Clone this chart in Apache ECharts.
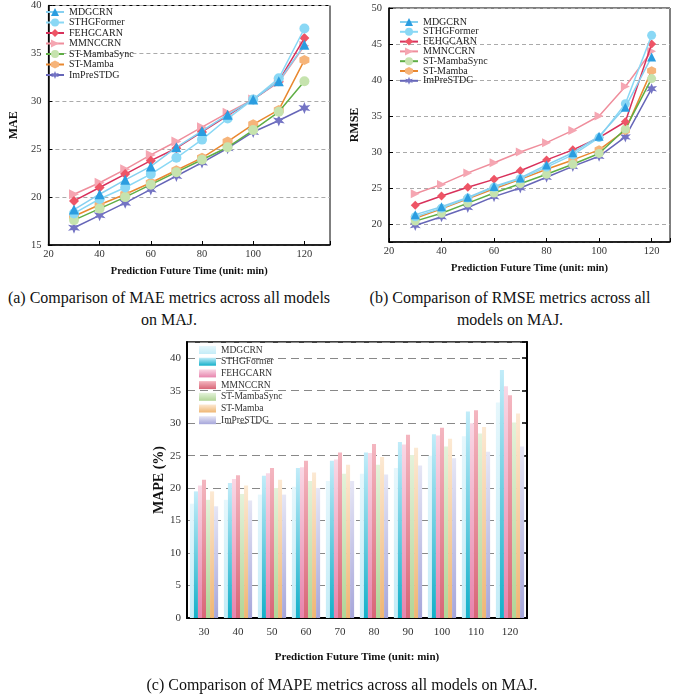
<!DOCTYPE html>
<html>
<head>
<meta charset="utf-8">
<script src="https://cdn.jsdelivr.net/npm/echarts@6/dist/echarts.min.js"></script>
<style>
body{margin:0;background:#fff;width:680px;height:694px;position:relative;overflow:hidden;font-family:"Liberation Serif",serif;}
.chart{position:absolute;}
.cap{position:absolute;text-align:center;font-size:16px;color:#111;line-height:22px;white-space:nowrap;font-family:"Liberation Serif",serif;}
</style>
</head>
<body>
<div id="ca" class="chart" style="left:0;top:0;width:340px;height:285px"></div>
<div id="cb" class="chart" style="left:340px;top:0;width:340px;height:285px"></div>
<div id="cc" class="chart" style="left:0;top:335px;width:680px;height:340px"></div>
<div class="cap" style="left:0;top:287px;width:338px">(a) Comparison of MAE metrics across all models<br>on MAJ.</div>
<div class="cap" style="left:340px;top:287px;width:340px">(b) Comparison of RMSE metrics across all<br>models on MAJ.</div>
<div class="cap" style="left:0;top:674px;width:684px">(c) Comparison of MAPE metrics across all models on MAJ.</div>
<script>
// prediction horizons (min)
const xTimes = [30, 40, 50, 60, 70, 80, 90, 100, 110, 120];
const modelNames = ['MDGCRN', 'STHGFormer', 'FEHGCARN', 'MMNCCRN', 'ST-MambaSync', 'ST-Mamba', 'ImPreSTDG'];

// one row per model, same order as modelNames
const maeValues = [
    [18.7, 20.3, 21.8, 23.2, 25.2, 26.9, 28.6, 30.2, 32.1, 35.9],
    [18.3, 19.8, 21.0, 22.4, 24.1, 26.0, 28.2, 30.2, 32.4, 37.6],
    [19.6, 21.0, 22.4, 23.8, 25.1, 26.8, 28.5, 30.2, 32.1, 36.6],
    [20.3, 21.5, 22.9, 24.4, 25.8, 27.3, 28.8, 30.2, 32.0, 35.8],
    [17.6, 18.8, 20.0, 21.3, 22.6, 23.9, 25.2, 27.0, 28.9, 32.1],
    [18.0, 19.2, 20.3, 21.5, 22.8, 24.1, 25.8, 27.6, 29.1, 34.3],
    [16.8, 18.1, 19.4, 20.8, 22.2, 23.6, 25.1, 26.8, 28.0, 29.3]
];
const rmseValues = [
    [21.3, 22.4, 23.7, 25.2, 26.4, 28.2, 29.9, 32.2, 36.2, 43.2],
    [21.0, 22.2, 23.6, 25.1, 26.3, 27.9, 29.6, 32.0, 36.7, 46.2],
    [22.6, 23.9, 25.1, 26.2, 27.4, 28.9, 30.3, 32.0, 34.2, 45.0],
    [24.2, 25.5, 27.1, 28.5, 30.0, 31.3, 33.0, 35.0, 39.1, 44.0],
    [20.4, 21.5, 22.9, 24.3, 25.6, 26.9, 28.3, 29.8, 33.2, 40.2],
    [20.8, 22.1, 23.5, 24.9, 26.2, 27.6, 28.9, 30.3, 33.0, 41.3],
    [19.8, 21.0, 22.3, 23.8, 25.0, 26.5, 28.0, 29.4, 32.1, 38.8]
];
const mapeValues = [
    [17.6, 18.2, 19.0, 20.2, 21.1, 22.2, 23.1, 25.0, 28.0, 33.2],
    [19.5, 20.8, 21.9, 23.1, 24.2, 25.5, 27.1, 28.3, 31.8, 38.2],
    [20.4, 21.4, 22.3, 23.2, 24.4, 25.4, 26.7, 28.1, 30.0, 35.7],
    [21.3, 22.0, 23.1, 24.2, 25.5, 26.8, 28.2, 29.3, 32.0, 34.3],
    [18.2, 19.1, 20.0, 21.1, 22.2, 23.6, 25.1, 26.4, 28.4, 30.1],
    [19.5, 20.4, 21.3, 22.4, 23.6, 24.8, 26.2, 27.6, 29.4, 31.5],
    [17.2, 18.1, 19.0, 20.0, 21.1, 22.1, 23.5, 24.6, 25.6, 26.4]
];

const lineColors = ['#86d0f0', '#8ad8f5', '#d8315b', '#ef8e9c', '#5fae45', '#e9882f', '#6666b8'];
const markerColors = ['#2b9de0', '#8ad8f5', '#ee5566', '#f5a6b2', '#c6e3ae', '#f6b47a', '#7474c4'];
const markerSymbols = [
    'triangle',
    'circle',
    'diamond',
    'path://M0,0L10,5L0,10Z',
    'circle',
    'path://M5,0L9.33,2.5L9.33,7.5L5,10L0.67,7.5L0.67,2.5Z',
    'path://M5,0L6.1,3.1L9.33,2.5L7.2,5L9.33,7.5L6.1,6.9L5,10L3.9,6.9L0.67,7.5L2.8,5L0.67,2.5L3.9,3.1Z'
];
const barTop = ['#e6f7fc', '#c2ecf9', '#f9d8e5', '#f4b6c0', '#e4f2da', '#fce9d3', '#e6e6f5'];
const barBottom = ['#c4ecf7', '#14b0c9', '#e784ad', '#d86677', '#b1d597', '#efb673', '#a6a6da'];

const serif = 'Liberation Serif';

function lineChart(el, values, o) {
    const chart = echarts.init(document.getElementById(el));
    const series = modelNames.map((name, i) => ({
        name: name,
        type: 'line',
        data: xTimes.map((x, j) => [x, values[i][j]]),
        symbol: markerSymbols[i],
        symbolSize: i === 6 ? o.symSize + 2 : o.symSize,
        lineStyle: {color: lineColors[i], width: 1.5},
        itemStyle: {color: markerColors[i], borderWidth: 0},
        z: 10 - i
    }));
    chart.setOption({
        animation: false,
        grid: {left: o.left, top: o.top, width: o.width, height: o.height, show: true, borderColor: '#000', borderWidth: 1},
        legend: {
            orient: 'vertical', left: o.legLeft, top: o.legTop,
            itemWidth: 18, itemHeight: 10, itemGap: o.legGap,
            textStyle: {fontFamily: serif, fontSize: 10, color: '#222'},
            data: modelNames
        },
        xAxis: {
            type: 'value', min: 20, max: o.xMax, interval: 20,
            name: 'Prediction Future Time (unit: min)', nameLocation: 'middle', nameGap: 21,
            nameTextStyle: {fontFamily: serif, fontWeight: 'bold', fontSize: 10.5, color: '#111'},
            axisLine: {lineStyle: {color: '#000', width: 1.5}},
            axisTick: {inside: true, length: 4, lineStyle: {color: '#000'}},
            axisLabel: {fontFamily: serif, fontSize: 10.5, color: '#333', margin: 4,
                formatter: v => (v % 20 === 0 && v <= 120) ? v : ''},
            splitLine: {show: false}
        },
        yAxis: {
            type: 'value', min: o.yMin, max: o.yMax, splitNumber: o.split,
            name: o.yName, nameLocation: 'middle', nameGap: 15,
            nameTextStyle: {fontFamily: serif, fontWeight: 'bold', fontSize: 12, color: '#111'},
            axisLine: {lineStyle: {color: '#000', width: 1.5}},
            axisTick: {inside: true, length: 4, lineStyle: {color: '#000'}},
            axisLabel: {fontFamily: serif, fontSize: 10.5, color: '#333', margin: 7,
                formatter: v => (v % 5 === 0) ? v : ''},
            splitLine: {lineStyle: {color: '#aaa', type: [4, 3], width: 1}}
        },
        series: series
    });
}

lineChart('ca', maeValues, {
    left: 30, top: 3, width: 300, height: 242,
    xMax: 130, yMin: 15, yMax: 40, split: 5, yName: 'MAE',
    legLeft: 40, legTop: 2, legGap: 0.5, symSize: 10
});
lineChart('cb', rmseValues, {
    left: 49, top: 8, width: 281, height: 234,
    xMax: 127, yMin: 17.5, yMax: 50, split: 7, yName: 'RMSE',
    legLeft: 54, legTop: 12, legGap: -0.2, symSize: 9
});

// bar chart (c)
const cc = echarts.init(document.getElementById('cc'));
const barSeries = modelNames.map((name, i) => ({
    name: name,
    type: 'bar',
    data: mapeValues[i],
    barGap: '0%',
    barCategoryGap: '17%',
    itemStyle: {
        color: new echarts.graphic.LinearGradient(0, 0, 0, 1, [
            {offset: 0, color: barTop[i]},
            {offset: 1, color: barBottom[i]}
        ])
    }
}));
cc.setOption({
    animation: false,
    grid: {left: 187, top: 7, width: 340, height: 276, show: true, borderColor: '#000', borderWidth: 1.5},
    legend: {
        orient: 'vertical', left: 194, top: 5,
        itemWidth: 17, itemHeight: 8, itemGap: 1.7, icon: 'rect',
        textStyle: {fontFamily: serif, fontSize: 9.5, color: '#333'},
        data: modelNames
    },
    xAxis: {
        type: 'category', data: xTimes,
        name: 'Prediction Future Time (unit: min)', nameLocation: 'middle', nameGap: 34,
        nameTextStyle: {fontFamily: serif, fontWeight: 'bold', fontSize: 11, color: '#111'},
        axisLine: {lineStyle: {color: '#000', width: 2}},
        axisTick: {show: false},
        axisLabel: {fontFamily: serif, fontSize: 11, color: '#333', margin: 9}
    },
    yAxis: [{
        type: 'value', min: 0, max: 42.5, interval: 5,
        name: 'MAPE (%)', nameLocation: 'middle', nameGap: 17,
        nameTextStyle: {fontFamily: serif, fontWeight: 'bold', fontSize: 14, color: '#111'},
        axisLine: {show: true, lineStyle: {color: '#000', width: 2}},
        axisTick: {inside: true, length: 4, lineStyle: {color: '#000'}},
        axisLabel: {fontFamily: serif, fontSize: 11, color: '#333', margin: 6,
            formatter: v => (v % 5 === 0) ? v : ''},
        splitLine: {lineStyle: {color: '#888', type: [8, 5], width: 1.2}}
    }, {
        type: 'value', min: 0, max: 42.5, interval: 5, position: 'right',
        axisLine: {show: true, lineStyle: {color: '#000', width: 2}},
        axisTick: {show: true, inside: true, length: 5, lineStyle: {color: '#000', width: 1.5}},
        axisLabel: {show: false},
        splitLine: {show: false}
    }],
    series: barSeries
});
</script>
</body>
</html>
